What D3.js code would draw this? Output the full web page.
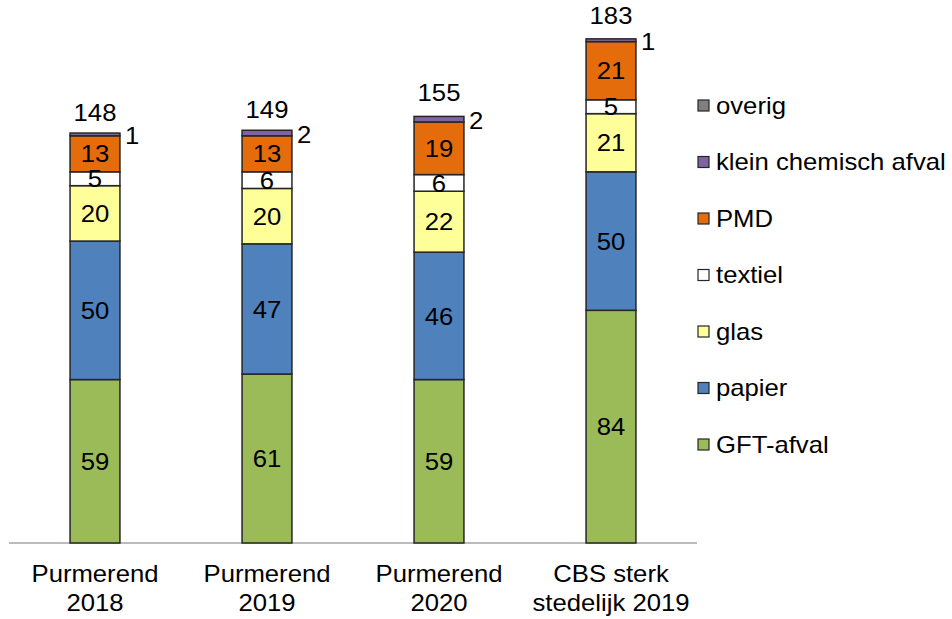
<!DOCTYPE html>
<html>
<head>
<meta charset="utf-8">
<script src="https://cdn.jsdelivr.net/npm/d3@7"></script>
<style>
  body { margin: 0; background: #fff; }
  text { font-family: "Liberation Sans", Arial, sans-serif; fill: #000; font-size: 24px; }
</style>
</head>
<body>
<svg id="chart" width="952" height="619"></svg>
<script>
// categories (two-line labels)
var categories = ["Purmerend 2018", "Purmerend 2019", "Purmerend 2020", "CBS sterk stedelijk 2019"];
var catLines = [["Purmerend", "2018"], ["Purmerend", "2019"], ["Purmerend", "2020"], ["CBS sterk", "stedelijk 2019"]];

// series, stacked bottom to top
var seriesNames = ["GFT-afval", "papier", "glas", "textiel", "PMD", "klein chemisch afval", "overig"];
var seriesColors = ["#9bbb59", "#4f81bd", "#ffff99", "#ffffff", "#e46c0a", "#8064a2", "#808080"];

var gft     = [59, 61, 59, 84];
var papier  = [50, 47, 46, 50];
var glas    = [20, 20, 22, 21];
var textiel = [5, 6, 6, 5];
var pmd     = [13, 13, 19, 21];
var chemisch = [1, 2, 2, 1];
var overig  = [0, 0, 0, 0];
var totals  = [148, 149, 155, 183];

var seriesValues = [gft, papier, glas, textiel, pmd, chemisch, overig];

var svg = d3.select("#chart");
var stretch = 1.07;

// text is a bit wider in the original, so squeeze it out horizontally
function place(sel, fx, fy) {
  sel.attr("transform", function(d, i) {
    return "translate(" + fx(d, i) + "," + fy(d, i) + ") scale(" + stretch + ",1)";
  });
}

var x = d3.scaleBand()
    .domain(categories)
    .range([9, 697])
    .paddingInner(0.71)
    .paddingOuter(0.355);

var y = d3.scaleLinear()
    .domain([0, 200])
    .range([543, -11]);

// build stacked rows
var rows = categories.map(function(c, i) {
  var r = { cat: c };
  seriesNames.forEach(function(s, k) { r[s] = seriesValues[k][i]; });
  return r;
});
var stacked = d3.stack().keys(seriesNames)(rows);

// axis line
svg.append("line")
    .attr("x1", 9).attr("x2", 697)
    .attr("y1", y(0)).attr("y2", y(0))
    .attr("stroke", "#a6a6a6")
    .attr("stroke-width", 1.5);

var layers = svg.selectAll("g.layer")
    .data(stacked)
  .enter().append("g")
    .attr("class", "layer")
    .attr("fill", function(d, i) { return seriesColors[i]; });

layers.selectAll("rect")
    .data(function(d) { return d.filter(function(p) { return p[1] - p[0] > 0; }); })
  .enter().append("rect")
    .attr("x", function(d) { return x(d.data.cat); })
    .attr("y", function(d) { return y(d[1]); })
    .attr("width", x.bandwidth())
    .attr("height", function(d) { return y(d[0]) - y(d[1]); })
    .attr("stroke", "#262626")
    .attr("stroke-width", 1.5);

// value labels inside segments (first five series)
stacked.slice(0, 5).forEach(function(layer) {
  var t = svg.selectAll(null)
      .data(layer)
    .enter().append("text")
      .attr("dy", "0.36em")
      .attr("text-anchor", "middle")
      .text(function(d) { return d[1] - d[0]; });
  place(t, function(d) { return x(d.data.cat) + x.bandwidth() / 2; },
           function(d) { return (y(d[0]) + y(d[1])) / 2; });
});

// klein chemisch afval labels to the right of the bar
var chem = svg.selectAll(null)
    .data(stacked[5])
  .enter().append("text")
    .attr("dy", "0.36em")
    .text(function(d) { return d[1] - d[0]; });
place(chem, function(d) { return x(d.data.cat) + x.bandwidth() + 5; },
            function(d) { return (y(d[0]) + y(d[1])) / 2 + 1; });

// totals above bars
var tot = svg.selectAll(null)
    .data(categories)
  .enter().append("text")
    .attr("text-anchor", "middle")
    .text(function(c, i) { return totals[i]; });
place(tot, function(c) { return x(c) + x.bandwidth() / 2; },
           function(c, i) { return y(totals[i]) - 12.5; });

// category labels
[582, 611].forEach(function(yy, line) {
  var t = svg.selectAll(null)
      .data(categories)
    .enter().append("text")
      .attr("text-anchor", "middle")
      .text(function(c, i) { return catLines[i][line]; });
  place(t, function(c) { return x(c) + x.bandwidth() / 2; }, function() { return yy; });
});

// legend, top to bottom in reverse order
var legendOrder = seriesNames.slice().reverse();
var leg = svg.selectAll("g.legend")
    .data(legendOrder)
  .enter().append("g")
    .attr("class", "legend")
    .attr("transform", function(d, i) { return "translate(698," + (105 + i * 56.5) + ")"; });
leg.append("rect")
    .attr("x", 0).attr("y", -5)
    .attr("width", 11).attr("height", 11)
    .attr("fill", function(d) { return seriesColors[seriesNames.indexOf(d)]; })
    .attr("stroke", "#262626")
    .attr("stroke-width", 1.2);
var legText = leg.append("text")
    .attr("dy", "0.36em")
    .text(function(d) { return d; });
place(legText, function() { return 18; }, function() { return 0; });
</script>
</body>
</html>
